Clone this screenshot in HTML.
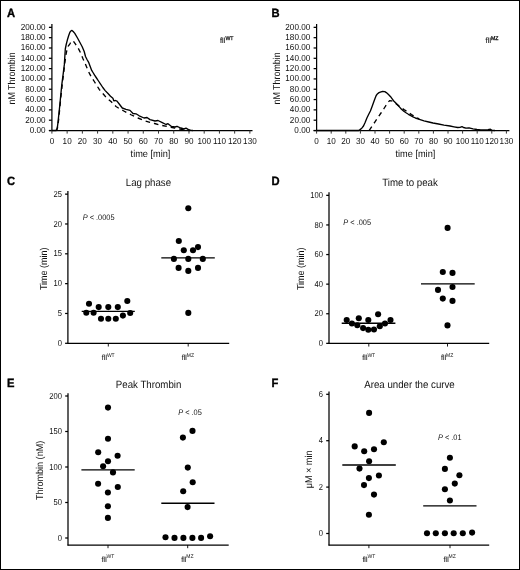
<!DOCTYPE html>
<html><head><meta charset="utf-8"><title>Thrombin generation</title>
<style>
html,body{margin:0;padding:0;background:#fff;}
body{width:520px;height:570px;overflow:hidden;}
.fig{position:relative;width:520px;height:570px;box-sizing:border-box;border:1px solid #000;background:#fff;}
svg{position:absolute;left:0;top:0;will-change:transform;}
text{font-family:"Liberation Sans", sans-serif;text-rendering:geometricPrecision;}
</style></head><body>
<div class="fig">
<svg width="520" height="570" viewBox="0 0 520 570" style="left:-1px;top:-1px" font-family='"Liberation Sans", sans-serif'>
<text transform="translate(6.90,16.80) scale(1,1.07)" font-size="11.2" text-anchor="start" font-weight="bold" font-style="normal" fill="#000" stroke="#000" stroke-width="0.35">A</text>
<text transform="translate(271.60,16.80) scale(1,1.07)" font-size="11.2" text-anchor="start" font-weight="bold" font-style="normal" fill="#000" stroke="#000" stroke-width="0.35">B</text>
<text transform="translate(6.90,185.20) scale(1,1.07)" font-size="11.2" text-anchor="start" font-weight="bold" font-style="normal" fill="#000" stroke="#000" stroke-width="0.35">C</text>
<text transform="translate(271.60,185.20) scale(1,1.07)" font-size="11.2" text-anchor="start" font-weight="bold" font-style="normal" fill="#000" stroke="#000" stroke-width="0.35">D</text>
<text transform="translate(6.90,387.30) scale(1,1.07)" font-size="11.2" text-anchor="start" font-weight="bold" font-style="normal" fill="#000" stroke="#000" stroke-width="0.35">E</text>
<text transform="translate(271.60,387.30) scale(1,1.07)" font-size="11.2" text-anchor="start" font-weight="bold" font-style="normal" fill="#000" stroke="#000" stroke-width="0.35">F</text>
<line x1="51.90" y1="24.00" x2="51.90" y2="131.00" stroke="#000" stroke-width="1.25"/>
<line x1="48.90" y1="130.50" x2="252.50" y2="130.50" stroke="#000" stroke-width="1.25"/>
<line x1="48.90" y1="130.50" x2="51.90" y2="130.50" stroke="#000" stroke-width="1.25"/>
<text transform="translate(45.60,132.95) scale(1,1.08)" font-size="8.15" text-anchor="end" font-weight="normal" font-style="normal" fill="#111" >0.00</text>
<line x1="48.90" y1="120.19" x2="51.90" y2="120.19" stroke="#000" stroke-width="1.25"/>
<text transform="translate(45.60,122.64) scale(1,1.08)" font-size="8.15" text-anchor="end" font-weight="normal" font-style="normal" fill="#111" >20.00</text>
<line x1="48.90" y1="109.87" x2="51.90" y2="109.87" stroke="#000" stroke-width="1.25"/>
<text transform="translate(45.60,112.32) scale(1,1.08)" font-size="8.15" text-anchor="end" font-weight="normal" font-style="normal" fill="#111" >40.00</text>
<line x1="48.90" y1="99.56" x2="51.90" y2="99.56" stroke="#000" stroke-width="1.25"/>
<text transform="translate(45.60,102.01) scale(1,1.08)" font-size="8.15" text-anchor="end" font-weight="normal" font-style="normal" fill="#111" >60.00</text>
<line x1="48.90" y1="89.24" x2="51.90" y2="89.24" stroke="#000" stroke-width="1.25"/>
<text transform="translate(45.60,91.69) scale(1,1.08)" font-size="8.15" text-anchor="end" font-weight="normal" font-style="normal" fill="#111" >80.00</text>
<line x1="48.90" y1="78.93" x2="51.90" y2="78.93" stroke="#000" stroke-width="1.25"/>
<text transform="translate(45.60,81.38) scale(1,1.08)" font-size="8.15" text-anchor="end" font-weight="normal" font-style="normal" fill="#111" >100.00</text>
<line x1="48.90" y1="68.61" x2="51.90" y2="68.61" stroke="#000" stroke-width="1.25"/>
<text transform="translate(45.60,71.06) scale(1,1.08)" font-size="8.15" text-anchor="end" font-weight="normal" font-style="normal" fill="#111" >120.00</text>
<line x1="48.90" y1="58.30" x2="51.90" y2="58.30" stroke="#000" stroke-width="1.25"/>
<text transform="translate(45.60,60.75) scale(1,1.08)" font-size="8.15" text-anchor="end" font-weight="normal" font-style="normal" fill="#111" >140.00</text>
<line x1="48.90" y1="47.98" x2="51.90" y2="47.98" stroke="#000" stroke-width="1.25"/>
<text transform="translate(45.60,50.43) scale(1,1.08)" font-size="8.15" text-anchor="end" font-weight="normal" font-style="normal" fill="#111" >160.00</text>
<line x1="48.90" y1="37.67" x2="51.90" y2="37.67" stroke="#000" stroke-width="1.25"/>
<text transform="translate(45.60,40.12) scale(1,1.08)" font-size="8.15" text-anchor="end" font-weight="normal" font-style="normal" fill="#111" >180.00</text>
<line x1="48.90" y1="27.35" x2="51.90" y2="27.35" stroke="#000" stroke-width="1.25"/>
<text transform="translate(45.60,29.80) scale(1,1.08)" font-size="8.15" text-anchor="end" font-weight="normal" font-style="normal" fill="#111" >200.00</text>
<line x1="51.90" y1="130.50" x2="51.90" y2="133.60" stroke="#333" stroke-width="1.0"/>
<text transform="translate(51.90,143.90) scale(1,1.08)" font-size="8.15" text-anchor="middle" font-weight="normal" font-style="normal" fill="#111" >0</text>
<line x1="67.13" y1="130.50" x2="67.13" y2="133.60" stroke="#333" stroke-width="1.0"/>
<text transform="translate(67.13,143.90) scale(1,1.08)" font-size="8.15" text-anchor="middle" font-weight="normal" font-style="normal" fill="#111" >10</text>
<line x1="82.36" y1="130.50" x2="82.36" y2="133.60" stroke="#333" stroke-width="1.0"/>
<text transform="translate(82.36,143.90) scale(1,1.08)" font-size="8.15" text-anchor="middle" font-weight="normal" font-style="normal" fill="#111" >20</text>
<line x1="97.59" y1="130.50" x2="97.59" y2="133.60" stroke="#333" stroke-width="1.0"/>
<text transform="translate(97.59,143.90) scale(1,1.08)" font-size="8.15" text-anchor="middle" font-weight="normal" font-style="normal" fill="#111" >30</text>
<line x1="112.82" y1="130.50" x2="112.82" y2="133.60" stroke="#333" stroke-width="1.0"/>
<text transform="translate(112.82,143.90) scale(1,1.08)" font-size="8.15" text-anchor="middle" font-weight="normal" font-style="normal" fill="#111" >40</text>
<line x1="128.05" y1="130.50" x2="128.05" y2="133.60" stroke="#333" stroke-width="1.0"/>
<text transform="translate(128.05,143.90) scale(1,1.08)" font-size="8.15" text-anchor="middle" font-weight="normal" font-style="normal" fill="#111" >50</text>
<line x1="143.28" y1="130.50" x2="143.28" y2="133.60" stroke="#333" stroke-width="1.0"/>
<text transform="translate(143.28,143.90) scale(1,1.08)" font-size="8.15" text-anchor="middle" font-weight="normal" font-style="normal" fill="#111" >60</text>
<line x1="158.51" y1="130.50" x2="158.51" y2="133.60" stroke="#333" stroke-width="1.0"/>
<text transform="translate(158.51,143.90) scale(1,1.08)" font-size="8.15" text-anchor="middle" font-weight="normal" font-style="normal" fill="#111" >70</text>
<line x1="173.74" y1="130.50" x2="173.74" y2="133.60" stroke="#333" stroke-width="1.0"/>
<text transform="translate(173.74,143.90) scale(1,1.08)" font-size="8.15" text-anchor="middle" font-weight="normal" font-style="normal" fill="#111" >80</text>
<line x1="188.97" y1="130.50" x2="188.97" y2="133.60" stroke="#333" stroke-width="1.0"/>
<text transform="translate(188.97,143.90) scale(1,1.08)" font-size="8.15" text-anchor="middle" font-weight="normal" font-style="normal" fill="#111" >90</text>
<line x1="204.20" y1="130.50" x2="204.20" y2="133.60" stroke="#333" stroke-width="1.0"/>
<text transform="translate(204.20,143.90) scale(1,1.08)" font-size="8.15" text-anchor="middle" font-weight="normal" font-style="normal" fill="#111" >100</text>
<line x1="219.43" y1="130.50" x2="219.43" y2="133.60" stroke="#333" stroke-width="1.0"/>
<text transform="translate(219.43,143.90) scale(1,1.08)" font-size="8.15" text-anchor="middle" font-weight="normal" font-style="normal" fill="#111" >110</text>
<line x1="234.66" y1="130.50" x2="234.66" y2="133.60" stroke="#333" stroke-width="1.0"/>
<text transform="translate(234.66,143.90) scale(1,1.08)" font-size="8.15" text-anchor="middle" font-weight="normal" font-style="normal" fill="#111" >120</text>
<line x1="249.89" y1="130.50" x2="249.89" y2="133.60" stroke="#333" stroke-width="1.0"/>
<text transform="translate(249.89,143.90) scale(1,1.08)" font-size="8.15" text-anchor="middle" font-weight="normal" font-style="normal" fill="#111" >130</text>
<text transform="translate(150.50,156.50) scale(1,1.08)" font-size="9.2" text-anchor="middle" font-weight="normal" font-style="normal" fill="#111" >time [min]</text>
<text x="0" y="0" font-size="9.2" text-anchor="middle" fill="#111" textLength="52.2" lengthAdjust="spacingAndGlyphs" transform="translate(15.20,78.45) rotate(-90) scale(1,1.08)">nM Thrombin</text>
<text transform="translate(220.00,43.4) scale(1,1.08)" font-size="7.2" fill="#111"><tspan letter-spacing="-0.2" stroke="#444" stroke-width="0.2">fII</tspan><tspan font-size="5.2" dy="-3.6" stroke="#111" stroke-width="0.25">WT</tspan></text>
<line x1="316.60" y1="24.00" x2="316.60" y2="131.00" stroke="#000" stroke-width="1.25"/>
<line x1="313.60" y1="130.50" x2="509.40" y2="130.50" stroke="#000" stroke-width="1.25"/>
<line x1="313.60" y1="130.50" x2="316.60" y2="130.50" stroke="#000" stroke-width="1.25"/>
<text transform="translate(310.20,132.95) scale(1,1.08)" font-size="8.15" text-anchor="end" font-weight="normal" font-style="normal" fill="#111" >0.00</text>
<line x1="313.60" y1="120.19" x2="316.60" y2="120.19" stroke="#000" stroke-width="1.25"/>
<text transform="translate(310.20,122.64) scale(1,1.08)" font-size="8.15" text-anchor="end" font-weight="normal" font-style="normal" fill="#111" >20.00</text>
<line x1="313.60" y1="109.87" x2="316.60" y2="109.87" stroke="#000" stroke-width="1.25"/>
<text transform="translate(310.20,112.32) scale(1,1.08)" font-size="8.15" text-anchor="end" font-weight="normal" font-style="normal" fill="#111" >40.00</text>
<line x1="313.60" y1="99.56" x2="316.60" y2="99.56" stroke="#000" stroke-width="1.25"/>
<text transform="translate(310.20,102.01) scale(1,1.08)" font-size="8.15" text-anchor="end" font-weight="normal" font-style="normal" fill="#111" >60.00</text>
<line x1="313.60" y1="89.24" x2="316.60" y2="89.24" stroke="#000" stroke-width="1.25"/>
<text transform="translate(310.20,91.69) scale(1,1.08)" font-size="8.15" text-anchor="end" font-weight="normal" font-style="normal" fill="#111" >80.00</text>
<line x1="313.60" y1="78.93" x2="316.60" y2="78.93" stroke="#000" stroke-width="1.25"/>
<text transform="translate(310.20,81.38) scale(1,1.08)" font-size="8.15" text-anchor="end" font-weight="normal" font-style="normal" fill="#111" >100.00</text>
<line x1="313.60" y1="68.61" x2="316.60" y2="68.61" stroke="#000" stroke-width="1.25"/>
<text transform="translate(310.20,71.06) scale(1,1.08)" font-size="8.15" text-anchor="end" font-weight="normal" font-style="normal" fill="#111" >120.00</text>
<line x1="313.60" y1="58.30" x2="316.60" y2="58.30" stroke="#000" stroke-width="1.25"/>
<text transform="translate(310.20,60.75) scale(1,1.08)" font-size="8.15" text-anchor="end" font-weight="normal" font-style="normal" fill="#111" >140.00</text>
<line x1="313.60" y1="47.98" x2="316.60" y2="47.98" stroke="#000" stroke-width="1.25"/>
<text transform="translate(310.20,50.43) scale(1,1.08)" font-size="8.15" text-anchor="end" font-weight="normal" font-style="normal" fill="#111" >160.00</text>
<line x1="313.60" y1="37.67" x2="316.60" y2="37.67" stroke="#000" stroke-width="1.25"/>
<text transform="translate(310.20,40.12) scale(1,1.08)" font-size="8.15" text-anchor="end" font-weight="normal" font-style="normal" fill="#111" >180.00</text>
<line x1="313.60" y1="27.35" x2="316.60" y2="27.35" stroke="#000" stroke-width="1.25"/>
<text transform="translate(310.20,29.80) scale(1,1.08)" font-size="8.15" text-anchor="end" font-weight="normal" font-style="normal" fill="#111" >200.00</text>
<line x1="316.60" y1="130.50" x2="316.60" y2="133.60" stroke="#333" stroke-width="1.0"/>
<text transform="translate(316.60,143.90) scale(1,1.08)" font-size="8.15" text-anchor="middle" font-weight="normal" font-style="normal" fill="#111" >0</text>
<line x1="331.20" y1="130.50" x2="331.20" y2="133.60" stroke="#333" stroke-width="1.0"/>
<text transform="translate(331.20,143.90) scale(1,1.08)" font-size="8.15" text-anchor="middle" font-weight="normal" font-style="normal" fill="#111" >10</text>
<line x1="345.80" y1="130.50" x2="345.80" y2="133.60" stroke="#333" stroke-width="1.0"/>
<text transform="translate(345.80,143.90) scale(1,1.08)" font-size="8.15" text-anchor="middle" font-weight="normal" font-style="normal" fill="#111" >20</text>
<line x1="360.40" y1="130.50" x2="360.40" y2="133.60" stroke="#333" stroke-width="1.0"/>
<text transform="translate(360.40,143.90) scale(1,1.08)" font-size="8.15" text-anchor="middle" font-weight="normal" font-style="normal" fill="#111" >30</text>
<line x1="375.00" y1="130.50" x2="375.00" y2="133.60" stroke="#333" stroke-width="1.0"/>
<text transform="translate(375.00,143.90) scale(1,1.08)" font-size="8.15" text-anchor="middle" font-weight="normal" font-style="normal" fill="#111" >40</text>
<line x1="389.60" y1="130.50" x2="389.60" y2="133.60" stroke="#333" stroke-width="1.0"/>
<text transform="translate(389.60,143.90) scale(1,1.08)" font-size="8.15" text-anchor="middle" font-weight="normal" font-style="normal" fill="#111" >50</text>
<line x1="404.20" y1="130.50" x2="404.20" y2="133.60" stroke="#333" stroke-width="1.0"/>
<text transform="translate(404.20,143.90) scale(1,1.08)" font-size="8.15" text-anchor="middle" font-weight="normal" font-style="normal" fill="#111" >60</text>
<line x1="418.80" y1="130.50" x2="418.80" y2="133.60" stroke="#333" stroke-width="1.0"/>
<text transform="translate(418.80,143.90) scale(1,1.08)" font-size="8.15" text-anchor="middle" font-weight="normal" font-style="normal" fill="#111" >70</text>
<line x1="433.40" y1="130.50" x2="433.40" y2="133.60" stroke="#333" stroke-width="1.0"/>
<text transform="translate(433.40,143.90) scale(1,1.08)" font-size="8.15" text-anchor="middle" font-weight="normal" font-style="normal" fill="#111" >80</text>
<line x1="448.00" y1="130.50" x2="448.00" y2="133.60" stroke="#333" stroke-width="1.0"/>
<text transform="translate(448.00,143.90) scale(1,1.08)" font-size="8.15" text-anchor="middle" font-weight="normal" font-style="normal" fill="#111" >90</text>
<line x1="462.60" y1="130.50" x2="462.60" y2="133.60" stroke="#333" stroke-width="1.0"/>
<text transform="translate(462.60,143.90) scale(1,1.08)" font-size="8.15" text-anchor="middle" font-weight="normal" font-style="normal" fill="#111" >100</text>
<line x1="477.20" y1="130.50" x2="477.20" y2="133.60" stroke="#333" stroke-width="1.0"/>
<text transform="translate(477.20,143.90) scale(1,1.08)" font-size="8.15" text-anchor="middle" font-weight="normal" font-style="normal" fill="#111" >110</text>
<line x1="491.80" y1="130.50" x2="491.80" y2="133.60" stroke="#333" stroke-width="1.0"/>
<text transform="translate(491.80,143.90) scale(1,1.08)" font-size="8.15" text-anchor="middle" font-weight="normal" font-style="normal" fill="#111" >120</text>
<line x1="506.40" y1="130.50" x2="506.40" y2="133.60" stroke="#333" stroke-width="1.0"/>
<text transform="translate(506.40,143.90) scale(1,1.08)" font-size="8.15" text-anchor="middle" font-weight="normal" font-style="normal" fill="#111" >130</text>
<text transform="translate(415.40,156.50) scale(1,1.08)" font-size="9.2" text-anchor="middle" font-weight="normal" font-style="normal" fill="#111" >time [min]</text>
<text x="0" y="0" font-size="9.2" text-anchor="middle" fill="#111" textLength="52.2" lengthAdjust="spacingAndGlyphs" transform="translate(279.90,78.45) rotate(-90) scale(1,1.08)">nM Thrombin</text>
<text transform="translate(485.60,43.4) scale(1,1.08)" font-size="7.2" fill="#111"><tspan letter-spacing="-0.2" stroke="#444" stroke-width="0.2">fII</tspan><tspan font-size="5.2" dy="-3.6" stroke="#111" stroke-width="0.25">MZ</tspan></text>
<polyline points="52.00,130.50 56.00,130.50 56.90,129.20 57.50,126.50 58.10,121.40 59.40,109.10 60.60,96.90 61.80,84.60 63.10,74.70 64.30,64.90 65.30,49.00 66.20,44.50 67.40,39.80 68.80,35.20 69.90,32.20 71.00,30.90 72.00,30.40 73.20,31.50 74.80,33.40 77.50,38.00 79.80,42.20 82.20,46.80 84.20,51.50 85.50,56.50 87.00,59.50 88.80,62.70 90.20,66.50 91.70,70.40 93.00,72.50 94.60,75.20 96.50,78.00 98.50,81.00 100.40,83.80 102.80,87.50 105.20,90.60 108.00,93.50 110.50,96.20 112.90,98.30 113.80,100.80 115.50,100.50 117.00,101.20 119.60,104.50 122.30,108.00 126.00,109.30 130.00,110.40 133.00,113.50 136.00,113.80 139.20,115.80 144.00,118.00 147.00,117.50 150.00,119.60 155.00,121.00 158.00,120.50 162.30,122.70 166.00,124.50 168.00,123.70 171.50,126.50 175.00,127.00 177.00,126.30 180.80,128.00 184.00,129.00 186.00,128.20 188.50,129.60 191.00,130.40 193.00,130.50" fill="none" stroke="#000" stroke-width="1.35" stroke-linejoin="round" stroke-linecap="butt"/>
<polyline points="56.60,130.50 57.60,127.50 58.60,120.00 59.80,108.00 61.10,95.00 62.40,83.00 63.70,72.50 64.80,63.00 65.90,55.00 67.00,49.50 68.10,46.30 69.90,43.80 71.30,41.60 72.40,40.70 73.50,41.30 75.50,44.20 78.20,48.20 80.80,53.30 83.00,58.80 84.50,62.00 86.00,65.60 87.80,70.00 89.80,74.20 92.20,78.30 94.60,82.00 97.00,85.80 99.40,89.60 102.30,93.00 105.20,96.30 108.00,99.00 111.00,101.60 113.50,104.00 116.00,106.50 120.00,109.00 123.80,111.00 127.50,113.00 131.50,115.00 138.00,118.00 145.40,121.00 150.00,122.30 154.60,123.50 160.00,125.00 167.00,126.50 171.00,127.30 174.60,128.00 180.00,129.00 185.00,130.00 190.00,130.50" fill="none" stroke="#000" stroke-width="1.35" stroke-linejoin="round" stroke-linecap="butt" stroke-dasharray="4.6,4.0" stroke-dashoffset="1.1"/>
<polyline points="316.60,130.50 358.70,130.50 360.00,129.60 361.80,128.20 363.50,126.00 365.20,122.20 366.90,118.00 368.60,114.50 370.40,111.00 372.10,106.50 373.80,101.80 375.00,98.50 376.20,95.50 377.60,93.70 379.00,92.60 381.00,91.80 382.50,91.50 384.80,91.70 386.30,92.60 387.70,93.80 389.20,95.20 390.60,96.70 392.00,98.60 393.50,100.70 395.80,103.00 398.00,105.30 399.80,107.40 401.50,109.30 403.80,111.20 406.00,112.80 408.40,114.30 410.80,115.70 413.00,116.90 415.40,118.00 419.40,119.30 424.00,120.80 428.80,122.00 433.00,123.00 438.50,124.00 444.00,125.10 450.00,126.00 454.00,126.80 457.70,127.50 460.00,127.30 462.00,126.60 463.50,127.50 466.00,128.20 469.00,127.80 473.00,128.80 477.00,129.50 480.80,129.80 485.00,129.90 488.00,129.60 490.40,129.20 492.00,130.30 495.00,130.50" fill="none" stroke="#000" stroke-width="1.35" stroke-linejoin="round" stroke-linecap="butt"/>
<polyline points="369.20,130.50 372.00,126.20 375.00,121.80 378.00,117.40 381.00,113.00 384.00,108.50 386.50,104.60 388.30,102.00 389.80,100.60 391.50,100.80 393.50,101.80 396.00,103.80 398.40,105.60 401.00,107.50 404.00,109.60 407.50,111.80 411.50,114.60 415.00,116.80 419.20,118.80" fill="none" stroke="#000" stroke-width="1.35" stroke-linejoin="round" stroke-linecap="butt" stroke-dasharray="4.6,4.0" stroke-dashoffset="-0.1"/>
<line x1="67.90" y1="191.00" x2="67.90" y2="343.80" stroke="#000" stroke-width="1.25"/>
<line x1="67.40" y1="343.30" x2="229.20" y2="343.30" stroke="#000" stroke-width="1.25"/>
<line x1="65.10" y1="343.30" x2="67.90" y2="343.30" stroke="#000" stroke-width="1.25"/>
<text transform="translate(62.00,345.90) scale(1,1.14)" font-size="7.6" text-anchor="end" font-weight="normal" font-style="normal" fill="#111" >0</text>
<line x1="65.10" y1="313.47" x2="67.90" y2="313.47" stroke="#000" stroke-width="1.25"/>
<text transform="translate(62.00,316.07) scale(1,1.14)" font-size="7.6" text-anchor="end" font-weight="normal" font-style="normal" fill="#111" >5</text>
<line x1="65.10" y1="283.64" x2="67.90" y2="283.64" stroke="#000" stroke-width="1.25"/>
<text transform="translate(62.00,286.24) scale(1,1.14)" font-size="7.6" text-anchor="end" font-weight="normal" font-style="normal" fill="#111" >10</text>
<line x1="65.10" y1="253.81" x2="67.90" y2="253.81" stroke="#000" stroke-width="1.25"/>
<text transform="translate(62.00,256.41) scale(1,1.14)" font-size="7.6" text-anchor="end" font-weight="normal" font-style="normal" fill="#111" >15</text>
<line x1="65.10" y1="223.98" x2="67.90" y2="223.98" stroke="#000" stroke-width="1.25"/>
<text transform="translate(62.00,226.58) scale(1,1.14)" font-size="7.6" text-anchor="end" font-weight="normal" font-style="normal" fill="#111" >20</text>
<line x1="65.10" y1="194.15" x2="67.90" y2="194.15" stroke="#000" stroke-width="1.25"/>
<text transform="translate(62.00,196.75) scale(1,1.14)" font-size="7.6" text-anchor="end" font-weight="normal" font-style="normal" fill="#111" >25</text>
<line x1="108.30" y1="343.30" x2="108.30" y2="346.50" stroke="#000" stroke-width="0.9"/>
<text transform="translate(101.80,359.90) scale(1,1.08)" font-size="7.0" fill="#111"><tspan font-weight="normal" letter-spacing="-0.25" stroke="#555" stroke-width="0.12">fII</tspan><tspan font-size="5.0" dy="-3.0">WT</tspan></text>
<line x1="188.20" y1="343.30" x2="188.20" y2="346.50" stroke="#000" stroke-width="0.9"/>
<text transform="translate(181.70,359.90) scale(1,1.08)" font-size="7.0" fill="#111"><tspan font-weight="normal" letter-spacing="-0.25" stroke="#555" stroke-width="0.12">fII</tspan><tspan font-size="5.0" dy="-3.0">MZ</tspan></text>
<text transform="translate(148.40,185.90) scale(1,1.08)" font-size="9.7" text-anchor="middle" font-weight="normal" font-style="normal" fill="#111" >Lag phase</text>
<text transform="translate(82.70,219.60) scale(1,1.08)" font-size="7.4" fill="#111"><tspan font-style="italic">P</tspan> &lt; .0005</text>
<text x="0" y="0" font-size="9.2" text-anchor="middle" fill="#111" textLength="42.6" lengthAdjust="spacingAndGlyphs" transform="translate(47.40,268.80) rotate(-90) scale(1,1.08)">Time (min)</text>
<circle cx="89.00" cy="303.80" r="3.05" fill="#000"/>
<circle cx="86.30" cy="312.80" r="3.05" fill="#000"/>
<circle cx="93.60" cy="312.80" r="3.05" fill="#000"/>
<circle cx="98.70" cy="307.10" r="3.05" fill="#000"/>
<circle cx="108.30" cy="307.10" r="3.05" fill="#000"/>
<circle cx="117.80" cy="307.10" r="3.05" fill="#000"/>
<circle cx="127.30" cy="301.00" r="3.05" fill="#000"/>
<circle cx="101.00" cy="318.80" r="3.05" fill="#000"/>
<circle cx="108.30" cy="318.80" r="3.05" fill="#000"/>
<circle cx="115.80" cy="318.80" r="3.05" fill="#000"/>
<circle cx="122.90" cy="315.60" r="3.05" fill="#000"/>
<circle cx="130.20" cy="313.00" r="3.05" fill="#000"/>
<line x1="81.70" y1="311.30" x2="134.80" y2="311.30" stroke="#000" stroke-width="1.35"/>
<circle cx="188.30" cy="208.30" r="3.05" fill="#000"/>
<circle cx="178.80" cy="241.00" r="3.05" fill="#000"/>
<circle cx="183.80" cy="250.20" r="3.05" fill="#000"/>
<circle cx="193.00" cy="250.20" r="3.05" fill="#000"/>
<circle cx="198.00" cy="247.10" r="3.05" fill="#000"/>
<circle cx="173.90" cy="258.90" r="3.05" fill="#000"/>
<circle cx="188.30" cy="258.90" r="3.05" fill="#000"/>
<circle cx="202.80" cy="258.90" r="3.05" fill="#000"/>
<circle cx="178.60" cy="267.90" r="3.05" fill="#000"/>
<circle cx="188.30" cy="270.90" r="3.05" fill="#000"/>
<circle cx="198.00" cy="267.90" r="3.05" fill="#000"/>
<circle cx="188.30" cy="312.90" r="3.05" fill="#000"/>
<line x1="161.30" y1="257.80" x2="214.80" y2="257.80" stroke="#000" stroke-width="1.35"/>
<line x1="329.00" y1="192.20" x2="329.00" y2="343.85" stroke="#000" stroke-width="1.25"/>
<line x1="328.50" y1="343.35" x2="489.20" y2="343.35" stroke="#000" stroke-width="1.25"/>
<line x1="326.20" y1="343.35" x2="329.00" y2="343.35" stroke="#000" stroke-width="1.25"/>
<text transform="translate(323.00,345.95) scale(1,1.14)" font-size="7.6" text-anchor="end" font-weight="normal" font-style="normal" fill="#111" >0</text>
<line x1="326.20" y1="313.75" x2="329.00" y2="313.75" stroke="#000" stroke-width="1.25"/>
<text transform="translate(323.00,316.35) scale(1,1.14)" font-size="7.6" text-anchor="end" font-weight="normal" font-style="normal" fill="#111" >20</text>
<line x1="326.20" y1="284.15" x2="329.00" y2="284.15" stroke="#000" stroke-width="1.25"/>
<text transform="translate(323.00,286.75) scale(1,1.14)" font-size="7.6" text-anchor="end" font-weight="normal" font-style="normal" fill="#111" >40</text>
<line x1="326.20" y1="254.55" x2="329.00" y2="254.55" stroke="#000" stroke-width="1.25"/>
<text transform="translate(323.00,257.15) scale(1,1.14)" font-size="7.6" text-anchor="end" font-weight="normal" font-style="normal" fill="#111" >60</text>
<line x1="326.20" y1="224.95" x2="329.00" y2="224.95" stroke="#000" stroke-width="1.25"/>
<text transform="translate(323.00,227.55) scale(1,1.14)" font-size="7.6" text-anchor="end" font-weight="normal" font-style="normal" fill="#111" >80</text>
<line x1="326.20" y1="195.35" x2="329.00" y2="195.35" stroke="#000" stroke-width="1.25"/>
<text transform="translate(323.00,197.95) scale(1,1.14)" font-size="7.6" text-anchor="end" font-weight="normal" font-style="normal" fill="#111" >100</text>
<line x1="368.80" y1="343.35" x2="368.80" y2="346.55" stroke="#000" stroke-width="0.9"/>
<text transform="translate(362.30,359.95) scale(1,1.08)" font-size="7.0" fill="#111"><tspan font-weight="normal" letter-spacing="-0.25" stroke="#555" stroke-width="0.12">fII</tspan><tspan font-size="5.0" dy="-3.0">WT</tspan></text>
<line x1="447.50" y1="343.35" x2="447.50" y2="346.55" stroke="#000" stroke-width="0.9"/>
<text transform="translate(441.00,359.95) scale(1,1.08)" font-size="7.0" fill="#111"><tspan font-weight="normal" letter-spacing="-0.25" stroke="#555" stroke-width="0.12">fII</tspan><tspan font-size="5.0" dy="-3.0">MZ</tspan></text>
<text transform="translate(410.00,185.90) scale(1,1.08)" font-size="9.7" text-anchor="middle" font-weight="normal" font-style="normal" fill="#111" >Time to peak</text>
<text transform="translate(343.30,224.80) scale(1,1.08)" font-size="7.4" fill="#111"><tspan font-style="italic">P</tspan> &lt; .005</text>
<text x="0" y="0" font-size="9.2" text-anchor="middle" fill="#111" textLength="42.6" lengthAdjust="spacingAndGlyphs" transform="translate(303.50,268.80) rotate(-90) scale(1,1.08)">Time (min)</text>
<circle cx="346.70" cy="320.00" r="3.05" fill="#000"/>
<circle cx="351.90" cy="323.50" r="3.05" fill="#000"/>
<circle cx="357.30" cy="325.20" r="3.05" fill="#000"/>
<circle cx="358.80" cy="318.30" r="3.05" fill="#000"/>
<circle cx="363.10" cy="328.10" r="3.05" fill="#000"/>
<circle cx="368.30" cy="320.00" r="3.05" fill="#000"/>
<circle cx="368.30" cy="329.80" r="3.05" fill="#000"/>
<circle cx="374.00" cy="329.50" r="3.05" fill="#000"/>
<circle cx="378.10" cy="314.20" r="3.05" fill="#000"/>
<circle cx="379.80" cy="326.30" r="3.05" fill="#000"/>
<circle cx="385.00" cy="323.50" r="3.05" fill="#000"/>
<circle cx="390.50" cy="320.00" r="3.05" fill="#000"/>
<line x1="341.70" y1="323.20" x2="395.40" y2="323.20" stroke="#000" stroke-width="1.35"/>
<circle cx="447.60" cy="227.90" r="3.05" fill="#000"/>
<circle cx="442.80" cy="272.00" r="3.05" fill="#000"/>
<circle cx="452.50" cy="272.90" r="3.05" fill="#000"/>
<circle cx="452.50" cy="287.00" r="3.05" fill="#000"/>
<circle cx="438.00" cy="289.90" r="3.05" fill="#000"/>
<circle cx="442.80" cy="298.60" r="3.05" fill="#000"/>
<circle cx="452.50" cy="300.90" r="3.05" fill="#000"/>
<circle cx="447.50" cy="325.40" r="3.05" fill="#000"/>
<line x1="421.00" y1="283.90" x2="474.70" y2="283.90" stroke="#000" stroke-width="1.35"/>
<line x1="68.00" y1="393.20" x2="68.00" y2="545.50" stroke="#000" stroke-width="1.25"/>
<line x1="67.50" y1="545.00" x2="228.70" y2="545.00" stroke="#000" stroke-width="1.25"/>
<line x1="65.20" y1="538.00" x2="68.00" y2="538.00" stroke="#000" stroke-width="1.25"/>
<text transform="translate(61.90,540.60) scale(1,1.14)" font-size="7.6" text-anchor="end" font-weight="normal" font-style="normal" fill="#111" >0</text>
<line x1="65.20" y1="502.50" x2="68.00" y2="502.50" stroke="#000" stroke-width="1.25"/>
<text transform="translate(61.90,505.10) scale(1,1.14)" font-size="7.6" text-anchor="end" font-weight="normal" font-style="normal" fill="#111" >50</text>
<line x1="65.20" y1="467.00" x2="68.00" y2="467.00" stroke="#000" stroke-width="1.25"/>
<text transform="translate(61.90,469.60) scale(1,1.14)" font-size="7.6" text-anchor="end" font-weight="normal" font-style="normal" fill="#111" >100</text>
<line x1="65.20" y1="431.50" x2="68.00" y2="431.50" stroke="#000" stroke-width="1.25"/>
<text transform="translate(61.90,434.10) scale(1,1.14)" font-size="7.6" text-anchor="end" font-weight="normal" font-style="normal" fill="#111" >150</text>
<line x1="65.20" y1="396.00" x2="68.00" y2="396.00" stroke="#000" stroke-width="1.25"/>
<text transform="translate(61.90,398.60) scale(1,1.14)" font-size="7.6" text-anchor="end" font-weight="normal" font-style="normal" fill="#111" >200</text>
<line x1="108.00" y1="545.00" x2="108.00" y2="548.20" stroke="#000" stroke-width="0.9"/>
<text transform="translate(101.50,561.60) scale(1,1.08)" font-size="7.0" fill="#111"><tspan font-weight="normal" letter-spacing="-0.25" stroke="#555" stroke-width="0.12">fII</tspan><tspan font-size="5.0" dy="-3.0">WT</tspan></text>
<line x1="187.70" y1="545.00" x2="187.70" y2="548.20" stroke="#000" stroke-width="0.9"/>
<text transform="translate(181.20,561.60) scale(1,1.08)" font-size="7.0" fill="#111"><tspan font-weight="normal" letter-spacing="-0.25" stroke="#555" stroke-width="0.12">fII</tspan><tspan font-size="5.0" dy="-3.0">MZ</tspan></text>
<text transform="translate(148.60,387.70) scale(1,1.08)" font-size="9.7" text-anchor="middle" font-weight="normal" font-style="normal" fill="#111" >Peak Thrombin</text>
<text transform="translate(178.20,414.70) scale(1,1.08)" font-size="7.4" fill="#111"><tspan font-style="italic">P</tspan> &lt; .05</text>
<text x="0" y="0" font-size="9.2" text-anchor="middle" fill="#111" textLength="59.3" lengthAdjust="spacingAndGlyphs" transform="translate(42.70,470.45) rotate(-90) scale(1,1.08)">Thrombin (nM)</text>
<circle cx="108.00" cy="407.60" r="3.05" fill="#000"/>
<circle cx="108.00" cy="438.80" r="3.05" fill="#000"/>
<circle cx="98.20" cy="452.20" r="3.05" fill="#000"/>
<circle cx="117.60" cy="455.70" r="3.05" fill="#000"/>
<circle cx="108.00" cy="461.20" r="3.05" fill="#000"/>
<circle cx="103.10" cy="466.20" r="3.05" fill="#000"/>
<circle cx="113.00" cy="472.40" r="3.05" fill="#000"/>
<circle cx="98.10" cy="483.80" r="3.05" fill="#000"/>
<circle cx="117.80" cy="487.00" r="3.05" fill="#000"/>
<circle cx="107.90" cy="492.50" r="3.05" fill="#000"/>
<circle cx="107.90" cy="506.20" r="3.05" fill="#000"/>
<circle cx="107.90" cy="517.90" r="3.05" fill="#000"/>
<line x1="81.40" y1="469.90" x2="134.70" y2="469.90" stroke="#000" stroke-width="1.35"/>
<circle cx="192.50" cy="430.90" r="3.05" fill="#000"/>
<circle cx="182.90" cy="437.60" r="3.05" fill="#000"/>
<circle cx="187.80" cy="467.60" r="3.05" fill="#000"/>
<circle cx="192.70" cy="482.30" r="3.05" fill="#000"/>
<circle cx="183.20" cy="491.30" r="3.05" fill="#000"/>
<circle cx="187.60" cy="507.10" r="3.05" fill="#000"/>
<circle cx="165.50" cy="537.30" r="3.05" fill="#000"/>
<circle cx="174.50" cy="537.90" r="3.05" fill="#000"/>
<circle cx="183.40" cy="537.90" r="3.05" fill="#000"/>
<circle cx="192.40" cy="537.90" r="3.05" fill="#000"/>
<circle cx="201.10" cy="537.90" r="3.05" fill="#000"/>
<circle cx="210.10" cy="536.20" r="3.05" fill="#000"/>
<line x1="161.30" y1="503.20" x2="214.50" y2="503.20" stroke="#000" stroke-width="1.35"/>
<line x1="329.00" y1="391.40" x2="329.00" y2="545.50" stroke="#000" stroke-width="1.25"/>
<line x1="328.50" y1="545.00" x2="489.20" y2="545.00" stroke="#000" stroke-width="1.25"/>
<line x1="326.20" y1="533.50" x2="329.00" y2="533.50" stroke="#000" stroke-width="1.25"/>
<text transform="translate(323.00,536.10) scale(1,1.14)" font-size="7.6" text-anchor="end" font-weight="normal" font-style="normal" fill="#111" >0</text>
<line x1="326.20" y1="487.10" x2="329.00" y2="487.10" stroke="#000" stroke-width="1.25"/>
<text transform="translate(323.00,489.70) scale(1,1.14)" font-size="7.6" text-anchor="end" font-weight="normal" font-style="normal" fill="#111" >2</text>
<line x1="326.20" y1="440.70" x2="329.00" y2="440.70" stroke="#000" stroke-width="1.25"/>
<text transform="translate(323.00,443.30) scale(1,1.14)" font-size="7.6" text-anchor="end" font-weight="normal" font-style="normal" fill="#111" >4</text>
<line x1="326.20" y1="394.30" x2="329.00" y2="394.30" stroke="#000" stroke-width="1.25"/>
<text transform="translate(323.00,396.90) scale(1,1.14)" font-size="7.6" text-anchor="end" font-weight="normal" font-style="normal" fill="#111" >6</text>
<line x1="368.90" y1="545.00" x2="368.90" y2="548.20" stroke="#000" stroke-width="0.9"/>
<text transform="translate(362.40,561.60) scale(1,1.08)" font-size="7.0" fill="#111"><tspan font-weight="normal" letter-spacing="-0.25" stroke="#555" stroke-width="0.12">fII</tspan><tspan font-size="5.0" dy="-3.0">WT</tspan></text>
<line x1="450.00" y1="545.00" x2="450.00" y2="548.20" stroke="#000" stroke-width="0.9"/>
<text transform="translate(443.50,561.60) scale(1,1.08)" font-size="7.0" fill="#111"><tspan font-weight="normal" letter-spacing="-0.25" stroke="#555" stroke-width="0.12">fII</tspan><tspan font-size="5.0" dy="-3.0">MZ</tspan></text>
<text transform="translate(409.50,387.70) scale(1,1.08)" font-size="9.7" text-anchor="middle" font-weight="normal" font-style="normal" fill="#111" >Area under the curve</text>
<text transform="translate(437.90,439.80) scale(1,1.08)" font-size="7.4" fill="#111"><tspan font-style="italic">P</tspan> &lt; .01</text>
<text x="0" y="0" font-size="9.2" text-anchor="middle" fill="#111" textLength="37.9" lengthAdjust="spacingAndGlyphs" transform="translate(311.90,469.40) rotate(-90) scale(1,1.08)">&#956;M &#215; min</text>
<circle cx="369.10" cy="412.90" r="3.05" fill="#000"/>
<circle cx="354.70" cy="446.40" r="3.05" fill="#000"/>
<circle cx="364.20" cy="451.30" r="3.05" fill="#000"/>
<circle cx="374.00" cy="449.30" r="3.05" fill="#000"/>
<circle cx="383.80" cy="442.30" r="3.05" fill="#000"/>
<circle cx="369.10" cy="461.30" r="3.05" fill="#000"/>
<circle cx="359.50" cy="468.60" r="3.05" fill="#000"/>
<circle cx="368.90" cy="478.10" r="3.05" fill="#000"/>
<circle cx="378.90" cy="475.50" r="3.05" fill="#000"/>
<circle cx="364.00" cy="485.10" r="3.05" fill="#000"/>
<circle cx="374.00" cy="494.60" r="3.05" fill="#000"/>
<circle cx="368.90" cy="514.70" r="3.05" fill="#000"/>
<line x1="342.30" y1="465.00" x2="395.80" y2="465.00" stroke="#000" stroke-width="1.35"/>
<circle cx="449.90" cy="457.70" r="3.05" fill="#000"/>
<circle cx="444.90" cy="468.90" r="3.05" fill="#000"/>
<circle cx="459.40" cy="475.20" r="3.05" fill="#000"/>
<circle cx="454.80" cy="483.60" r="3.05" fill="#000"/>
<circle cx="444.90" cy="489.30" r="3.05" fill="#000"/>
<circle cx="449.90" cy="500.50" r="3.05" fill="#000"/>
<circle cx="427.00" cy="533.20" r="3.05" fill="#000"/>
<circle cx="435.80" cy="533.20" r="3.05" fill="#000"/>
<circle cx="444.90" cy="533.20" r="3.05" fill="#000"/>
<circle cx="453.70" cy="533.20" r="3.05" fill="#000"/>
<circle cx="462.80" cy="533.20" r="3.05" fill="#000"/>
<circle cx="472.10" cy="532.60" r="3.05" fill="#000"/>
<line x1="423.20" y1="505.80" x2="476.50" y2="505.80" stroke="#000" stroke-width="1.35"/>
</svg>
</div>
</body></html>
